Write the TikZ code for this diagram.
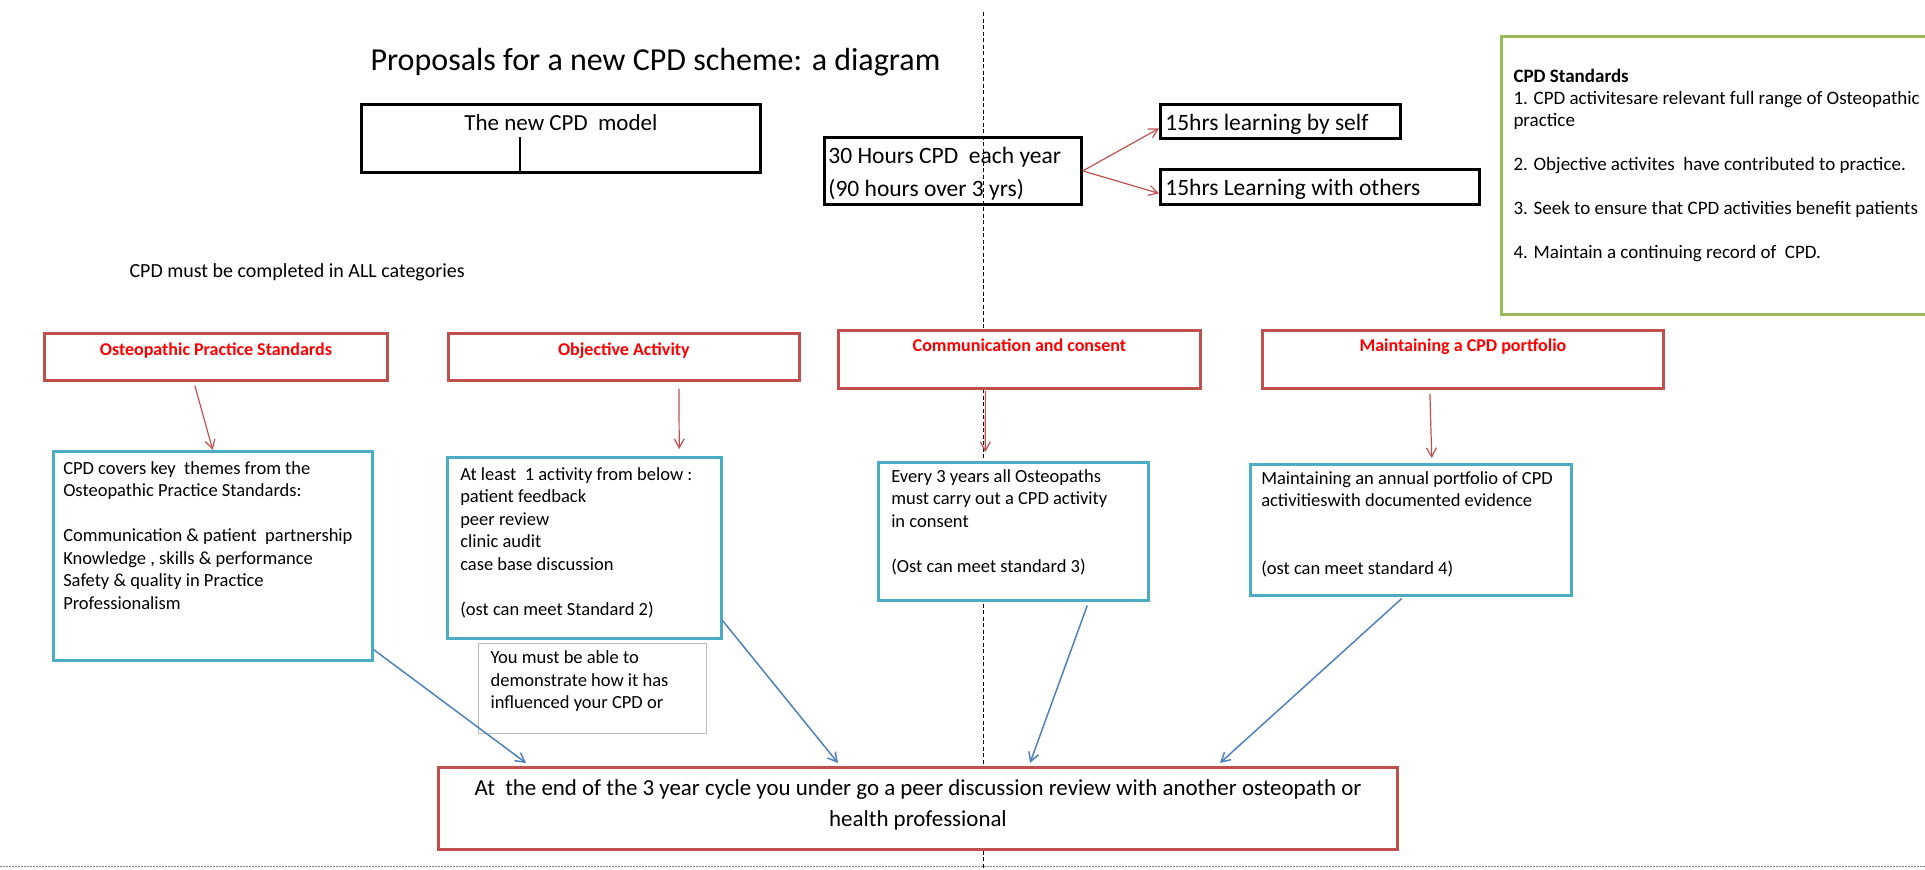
\documentclass[tikz,border=0pt]{standalone}
\usepackage{fontspec}
\setmainfont{Carlito}
\usetikzlibrary{arrows.meta}
\definecolor{boxred}{HTML}{C0504D}
\definecolor{textred}{HTML}{FF0000}
\definecolor{boxblue}{HTML}{4BACC6}
\definecolor{lineblue}{HTML}{4F81BD}
\definecolor{boxgreen}{HTML}{9BBB59}
\definecolor{notegrey}{HTML}{BFBFBF}
\tikzstyle{blackbox} = [draw=black,line width=2.8pt,inner sep=0pt,anchor=north west]
\tikzstyle{headbox} = [draw=boxred,line width=2.8pt,inner sep=0pt,anchor=north west,fill=white,text=textred]
\tikzstyle{infobox} = [draw=boxblue,line width=2.5pt,inner sep=0pt,anchor=north west,fill=white]
\tikzstyle{notebox} = [draw=notegrey,line width=1.2pt,inner sep=0pt,anchor=north west,fill=white]
\tikzstyle{stdbox} = [draw=boxgreen,line width=3pt,inner sep=0pt,anchor=north west,fill=white]
\tikzstyle{endbox} = [draw=boxred,line width=3pt,inner sep=0pt,anchor=north west,fill=white]
\tikzstyle{redarrow} = [->,draw=boxred,line width=1.2pt]
\tikzstyle{bluearrow} = [->,draw=lineblue,line width=1.5pt]
\newcommand{\boxtext}[4]{\parbox[t][#2pt][t]{#1pt}{\vspace*{#3pt}#4}}
\newcommand{\hdrtext}{\fontsize{18}{22}\selectfont\bfseries\centering\strut}
\newcommand{\infotext}[1]{\fontsize{18.5}{22.5}\selectfont\raggedright\leftskip=#1pt\strut}

\begin{document}
\begin{tikzpicture}[x=1pt,y=-1pt,>={Straight Barb[length=9pt,width=10pt]}]
\useasboundingbox (0,0) rectangle (1925,870);

\draw[line width=1pt,dash pattern=on 4pt off 2.5pt] (983,12) -- (983,870);
\draw[gray,line width=1pt,dash pattern=on 1.5pt off 1.5pt] (0,866) -- (1925,866);

\node[anchor=base west,font=\fontsize{32}{38}\selectfont] (title) at (367,70) {Proposals for a new CPD scheme: a diagram};
\node[blackbox,fill=white] (model) at (360,103) {\boxtext{399}{68}{6.4}{\fontsize{23}{28}\selectfont\centering\strut The new CPD~ model}};
\coordinate (stem) at (520,137);
\draw[line width=2pt] (stem) -- (stem |- model.south);

\node[blackbox] (hours) at (823,136) {\boxtext{257}{67}{2.9}{\fontsize{23.5}{33}\selectfont\raggedright\leftskip=4pt\strut 30 Hours CPD~ each year\\(90 hours over 3 yrs)}};
\node[blackbox,fill=white] (self) at (1159,103) {\boxtext{240}{34}{2.9}{\fontsize{23.5}{33}\selectfont\raggedright\leftskip=5pt\strut 15hrs learning by self}};
\node[blackbox,fill=white] (others) at (1159,168) {\boxtext{319}{35}{2.9}{\fontsize{23.5}{33}\selectfont\raggedright\leftskip=5pt\strut 15hrs Learning with others}};

\node[stdbox] (standards) at (1500,35) {\boxtext{428}{278}{30.6}{\fontsize{19}{22}\selectfont\raggedright\leftskip=12pt\strut\textbf{CPD Standards}\\
1. CPD activitesare relevant full range of Osteopathic\\practice\\[22pt]
2. Objective activites~ have contributed to practice.\\[22pt]
3. Seek to ensure that CPD activities benefit patients\\[22pt]
4. Maintain a continuing record of~ CPD.}};

\node[anchor=base west,font=\fontsize{20}{24}\selectfont] (allcat) at (126,277) {CPD must be completed in ALL categories};

\node[headbox] (ops) at (43,332) {\boxtext{343}{47}{6.6}{\hdrtext Osteopathic Practice Standards}};
\node[headbox] (oa) at (447,332) {\boxtext{351}{47}{6.6}{\hdrtext Objective Activity}};
\node[headbox] (cc) at (837,329) {\boxtext{362}{58}{5.6}{\hdrtext Communication and consent}};
\node[headbox] (mcp) at (1261,329) {\boxtext{401}{58}{5.6}{\hdrtext Maintaining a CPD portfolio}};

\node[infobox] (b1) at (52,450) {\boxtext{319}{209}{7.25}{\infotext{10}CPD covers key~ themes from the\\Osteopathic Practice Standards:\\[22.5pt]
Communication \& patient~ partnership\\Knowledge , skills \& performance\\Safety \& quality in Practice\\Professionalism}};
\node[infobox] (b2) at (446,456) {\boxtext{274}{181}{7.25}{\infotext{13}At least~ 1 activity from below :\\patient feedback\\peer review\\clinic audit\\case base discussion\\[22.5pt]
(ost can meet Standard 2)}};
\node[notebox] (note) at (478,643) {\boxtext{228}{90}{4.25}{\infotext{12}You must be able to\\demonstrate how it has\\influenced your CPD or}};
\node[infobox] (b3) at (877,461) {\boxtext{270}{138}{4.25}{\infotext{13}Every 3 years all Osteopaths\\must carry out a CPD activity\\in consent\\[22.5pt]
(Ost can meet standard 3)}};
\node[infobox] (b4) at (1249,463) {\boxtext{321}{131}{4.25}{\infotext{11}Maintaining an annual portfolio of CPD\\activitieswith documented evidence\\[45pt]
(ost can meet standard 4)}};

\node[endbox] (review) at (437,766) {\boxtext{959}{82}{6}{\fontsize{22.9}{31}\selectfont\centering\strut At~ the end of the 3 year cycle you under go a peer discussion review with another osteopath or\\health professional}};

\draw[redarrow] (hours.east) -- ([yshift=-7pt]self.west);
\draw[redarrow] (hours.east) -- ([yshift=-6.5pt]others.west);
\draw[redarrow] ([xshift=-21pt,yshift=-4pt]ops.south) -- (b1.north);
\draw[redarrow] ([xshift=55pt,yshift=-7pt]oa.south) -- ([xshift=95pt,yshift=7pt]b2.north);
\draw[redarrow] ([xshift=-34pt,yshift=-1pt]cc.south) -- ([xshift=-28pt,yshift=9pt]b3.north);
\draw[redarrow] ([xshift=-33pt,yshift=-4pt]mcp.south) -- ([xshift=21pt,yshift=5pt]b4.north);

\draw[bluearrow] ([yshift=12pt]b1.south east) -- ([xshift=89pt,yshift=3pt]review.north west);
\draw[bluearrow] ([yshift=19pt]b2.south east) -- ([xshift=401pt,yshift=3pt]review.north west);
\draw[bluearrow] ([xshift=74pt,yshift=-4pt]b3.south) -- ([xshift=593pt,yshift=3pt]review.north west);
\draw[bluearrow] ([xshift=-9pt,yshift=-2pt]b4.south) -- ([xshift=783pt,yshift=3pt]review.north west);

\end{tikzpicture}
\end{document}
